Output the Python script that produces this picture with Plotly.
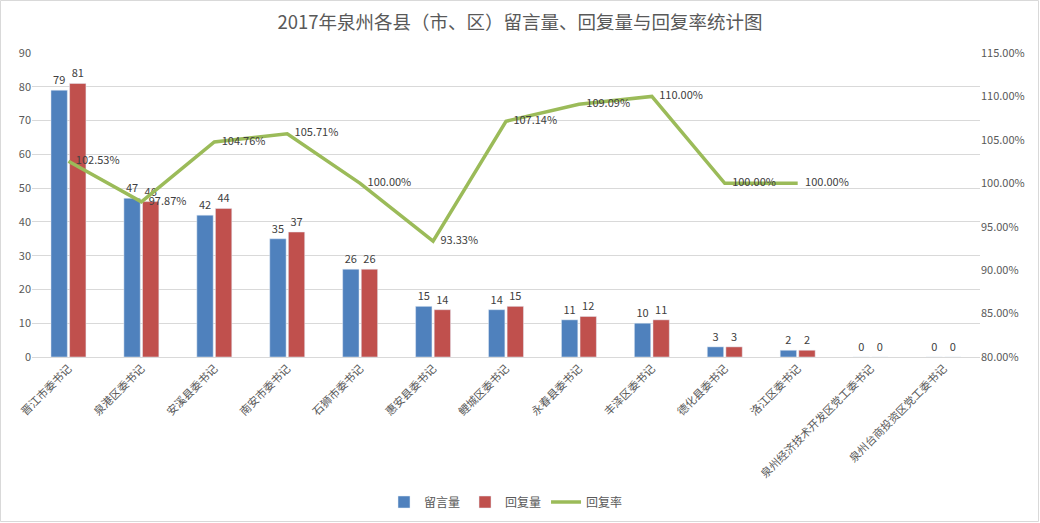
import plotly.graph_objects as go

categories = ['晋江市委书记', '泉港区委书记', '安溪县委书记', '南安市委书记', '石狮市委书记',
              '惠安县委书记', '鲤城区委书记', '永春县委书记', '丰泽区委书记', '德化县委书记',
              '洛江区委书记', '泉州经济技术开发区党工委书记', '泉州台商投资区党工委书记']
messages = [79, 47, 42, 35, 26, 15, 14, 11, 10, 3, 2, 0, 0]
replies = [81, 46, 44, 37, 26, 14, 15, 12, 11, 3, 2, 0, 0]
reply_rate = [1.0253, 0.9787, 1.0476, 1.0571, 1.0, 0.9333, 1.0714, 1.0909, 1.10, 1.0, 1.0, None, None]

font_main = 'Noto Sans CJK SC, Microsoft YaHei, sans-serif'
text_color = '#595959'

W, H = 1040, 523
ML, MR, MT, MB = 32, 60, 53, 166
plot_w, plot_h = W - ML - MR, H - MT - MB

fig = go.Figure()

# Bars for messages and replies
fig.add_trace(go.Bar(x=categories, y=messages, name='留言量', marker_color='#4F81BD',
                     text=messages, textposition='outside', cliponaxis=False,
                     textfont=dict(size=11, color='#404040')))
fig.add_trace(go.Bar(x=categories, y=replies, name='回复量', marker_color='#C0504D',
                     text=replies, textposition='outside', cliponaxis=False,
                     textfont=dict(size=11, color='#404040')))

# Reply rate line on the secondary axis
rate_text = [f'   {v * 100:.2f}%' if v is not None else '' for v in reply_rate]
fig.add_trace(go.Scatter(x=categories, y=reply_rate, name='回复率', yaxis='y2',
                         mode='lines+text', text=rate_text, textposition='middle right',
                         textfont=dict(size=11, color='#404040'),
                         line=dict(color='#9BBB59', width=3.5), cliponaxis=False))

fig.update_layout(
    width=W, height=H,
    title=dict(text='2017年泉州各县（市、区）留言量、回复量与回复率统计图', x=0.5, y=0.956,
               xanchor='center', yanchor='middle',
               font=dict(size=18.5, color=text_color, family=font_main)),
    font=dict(family=font_main, size=11, color=text_color),
    paper_bgcolor='white', plot_bgcolor='white',
    margin=dict(l=ML, r=MR, t=MT, b=MB, autoexpand=False),
    barmode='group', bargap=0.49, bargroupgap=0.12,
    xaxis=dict(tickangle=-45, showline=True, linecolor='#D9D9D9', ticks='', automargin=False,
               range=[-0.5, len(categories) - 0.5],
               tickfont=dict(size=11, color=text_color)),
    yaxis=dict(range=[0, 90], dtick=10, gridcolor='#D9D9D9', zeroline=False, automargin=False,
               showline=False, tickfont=dict(size=11, color=text_color)),
    yaxis2=dict(range=[0.80, 1.15], dtick=0.05, tickformat='.2%', overlaying='y',
                side='right', showgrid=False, zeroline=False, automargin=False,
                tickfont=dict(size=11, color=text_color)),
    legend=dict(orientation='h', x=0.5, xanchor='center', y=-0.477, yanchor='middle',
                font=dict(size=12, color=text_color)),
    showlegend=True,
)

# Thin grey border around the whole chart area
fig.add_shape(type='rect', xref='paper', yref='paper',
              x0=-(ML - 0.5) / plot_w, x1=1 + (MR - 1.5) / plot_w,
              y0=-(MB - 1.5) / plot_h, y1=1 + (MT - 0.5) / plot_h,
              line=dict(color='#D9D9D9', width=1), layer='below')

# Remove the default page margin so the chart sits at the window's corner
fig.write_html('out.html', config={'displayModeBar': False},
               post_script="document.body.style.margin='0';")
